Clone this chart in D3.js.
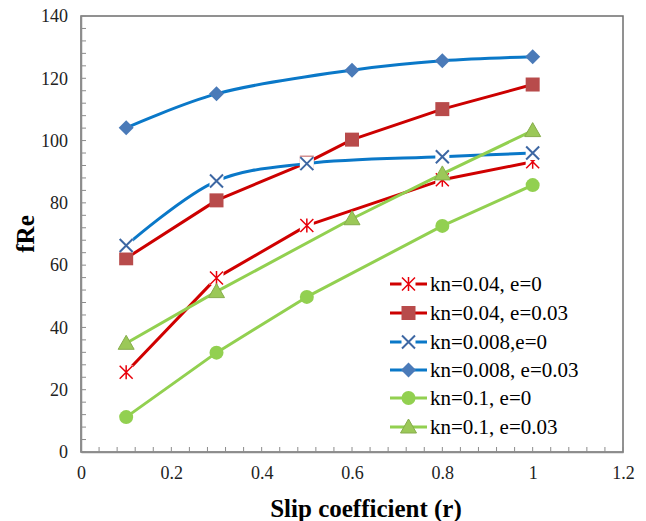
<!DOCTYPE html>
<html>
<head>
<meta charset="utf-8">
<script src="https://cdn.jsdelivr.net/npm/d3@7"></script>
<style>
	body { margin: 0; background: #fff; }
	text { font-family: "Liberation Serif", "Times New Roman", serif; }
</style>
</head>
<body>
<div id="chart"></div>
<script>
// Data
const seriesNames = ["kn=0.04, e=0", "kn=0.04, e=0.03", "kn=0.008,e=0", "kn=0.008, e=0.03", "kn=0.1, e=0", "kn=0.1, e=0.03"]

const xKn004e0 = [0.1, 0.3, 0.5, 0.8, 1]
const yKn004e0 = [25.6, 55.9, 72.7, 87.4, 93.2]

const xKn004e003 = [0.1, 0.3, 0.5, 0.6, 0.8, 1]
const yKn004e003 = [62.2, 80.8, 92.9, 100.3, 110.1, 118.0]

const xKn0008e0 = [0.1, 0.3, 0.5, 0.8, 1]
const yKn0008e0 = [66.3, 87.0, 92.6, 94.8, 96.0]

const xKn0008e003 = [0.1, 0.3, 0.6, 0.8, 1]
const yKn0008e003 = [104.1, 115.0, 122.6, 125.6, 126.9]

const xKn01e0 = [0.1, 0.3, 0.5, 0.8, 1]
const yKn01e0 = [11.2, 31.9, 49.8, 72.6, 85.7]

const xKn01e003 = [0.1, 0.3, 0.6, 0.8, 1]
const yKn01e003 = [34.9, 51.5, 74.9, 89.3, 103.2]

const xTicks = [0, 0.2, 0.4, 0.6, 0.8, 1, 1.2]
const yTicks = [0, 20, 40, 60, 80, 100, 120, 140]

// styles per series
const styles = [
	{ line: "#d00000", marker: "star", fill: "none", stroke: "#e8000b", smooth: false },
	{ line: "#cc0000", marker: "square", fill: "#b84b4b", stroke: "#b84b4b", smooth: false },
	{ line: "#0a78c8", marker: "x", fill: "none", stroke: "#3d67a3", smooth: true },
	{ line: "#0a78c8", marker: "diamond", fill: "#4a7ab8", stroke: "#4a7ab8", smooth: true },
	{ line: "#92d050", marker: "circle", fill: "#92d050", stroke: "#92d050", smooth: false },
	{ line: "#92d050", marker: "triangle", fill: "#9bc858", stroke: "#86ad4c", smooth: false }
]

const xs = [xKn004e0, xKn004e003, xKn0008e0, xKn0008e003, xKn01e0, xKn01e003]
const ys = [yKn004e0, yKn004e003, yKn0008e0, yKn0008e003, yKn01e0, yKn01e003]

const dims = { width: 646, height: 521, left: 81, top: 16, right: 623, bottom: 452 }

const svg = d3.select("#chart").append("svg")
	.attr("width", dims.width)
	.attr("height", dims.height)

const xScale = d3.scaleLinear().domain([0, 1.2]).range([dims.left, dims.right])
const yScale = d3.scaleLinear().domain([0, 140]).range([dims.bottom, dims.top])

// plot border (top / right)
svg.append("rect")
	.attr("x", dims.left).attr("y", dims.top)
	.attr("width", dims.right - dims.left).attr("height", dims.bottom - dims.top)
	.attr("fill", "none").attr("stroke", "#6e6e6e").attr("stroke-width", 1.5)

// minor ticks
const xMinor = d3.range(0, 1.2001, 0.04)
const yMinor = d3.range(0, 140.001, 4)

svg.append("g").selectAll("line")
	.data(xMinor)
	.join("line")
	.attr("x1", d => xScale(d)).attr("x2", d => xScale(d))
	.attr("y1", dims.bottom).attr("y2", dims.bottom - 5)
	.attr("stroke", "#8c8c8c").attr("stroke-width", 1)

svg.append("g").selectAll("line")
	.data(yMinor)
	.join("line")
	.attr("y1", d => yScale(d)).attr("y2", d => yScale(d))
	.attr("x1", dims.left).attr("x2", dims.left + 5)
	.attr("stroke", "#8c8c8c").attr("stroke-width", 1)

// X axis
const xAxis = svg.append("g")
	.attr("transform", `translate(0, ${dims.bottom})`)
	.call(d3.axisBottom(xScale).tickValues(xTicks).tickSize(0).tickPadding(14).tickFormat(d => d3.format("")(+d.toFixed(1))))
xAxis.select(".domain").attr("stroke", "#8c8c8c").attr("stroke-width", 1.5)
xAxis.selectAll("text")
	.attr("font-size", "18px").attr("fill", "#222")

// Y axis
const yAxis = svg.append("g")
	.attr("transform", `translate(${dims.left}, 0)`)
	.call(d3.axisLeft(yScale).tickValues(yTicks).tickSize(0).tickPadding(13))
yAxis.select(".domain").attr("stroke", "#8c8c8c").attr("stroke-width", 1.5)
yAxis.selectAll("text")
	.attr("font-size", "18px").attr("fill", "#222")

// Axis titles
svg.append("text")
	.attr("x", 366).attr("y", 517)
	.attr("text-anchor", "middle")
	.attr("font-size", "25px").attr("font-weight", "bold")
	.text("Slip coefficient (r)")

svg.append("text")
	.attr("transform", "translate(34, 234) rotate(-90)")
	.attr("text-anchor", "middle")
	.attr("font-size", "25px").attr("font-weight", "bold")
	.text("fRe")

/**
 * draws one marker of the given type at (cx, cy)
 */
function drawMarker(g, type, cx, cy, st) {
	if (type === "square") {
		g.append("rect").attr("x", cx - 7).attr("y", cy - 7).attr("width", 14).attr("height", 14)
			.attr("fill", st.fill)
	} else if (type === "diamond") {
		g.append("path").attr("d", `M${cx},${cy - 7.5}L${cx + 7.5},${cy}L${cx},${cy + 7.5}L${cx - 7.5},${cy}Z`)
			.attr("fill", st.fill)
	} else if (type === "circle") {
		g.append("circle").attr("cx", cx).attr("cy", cy).attr("r", 7).attr("fill", st.fill)
	} else if (type === "triangle") {
		g.append("path").attr("d", `M${cx},${cy - 8}L${cx + 8},${cy + 6}L${cx - 8},${cy + 6}Z`)
			.attr("fill", st.fill).attr("stroke", st.stroke).attr("stroke-width", 1)
	} else if (type === "x") {
		g.append("rect").attr("x", cx - 7).attr("y", cy - 7).attr("width", 14).attr("height", 14).attr("fill", "#fff")
		g.append("path").attr("d", `M${cx - 6.5},${cy - 6.5}L${cx + 6.5},${cy + 6.5}M${cx + 6.5},${cy - 6.5}L${cx - 6.5},${cy + 6.5}`)
			.attr("stroke", st.stroke).attr("stroke-width", 2)
	} else if (type === "star") {
		g.append("rect").attr("x", cx - 7).attr("y", cy - 7).attr("width", 14).attr("height", 14).attr("fill", "#fff")
		g.append("path").attr("d", `M${cx - 6.5},${cy - 6.5}L${cx + 6.5},${cy + 6.5}M${cx + 6.5},${cy - 6.5}L${cx - 6.5},${cy + 6.5}M${cx},${cy - 7}L${cx},${cy + 7}`)
			.attr("stroke", st.stroke).attr("stroke-width", 1.5)
	}
}

// Series lines then markers
const plot = svg.append("g")
seriesNames.forEach((name, i) => {
	const pts = xs[i].map((x, j) => [x, ys[i][j]])
	const st = styles[i]
	const line = d3.line()
		.x(d => xScale(d[0]))
		.y(d => yScale(d[1]))
		.curve(st.smooth ? d3.curveCatmullRom.alpha(0.5) : d3.curveLinear)
	plot.append("path")
		.datum(pts)
		.attr("d", line)
		.attr("fill", "none")
		.attr("stroke", st.line)
		.attr("stroke-width", 3)
		.attr("stroke-linejoin", "round")
	const mg = plot.append("g")
	pts.forEach(p => drawMarker(mg, st.marker, xScale(p[0]), yScale(p[1]), st))
})

// Legend
const legend = svg.append("g")
const legendY = [284, 313, 342, 370, 398, 427]
seriesNames.forEach((name, i) => {
	const st = styles[i]
	const y = legendY[i]
	legend.append("line")
		.attr("x1", 390).attr("x2", 427).attr("y1", y).attr("y2", y)
		.attr("stroke", st.line).attr("stroke-width", 3)
	drawMarker(legend, st.marker, 408.5, y, st)
	legend.append("text")
		.attr("x", 430).attr("y", y + 7)
		.attr("font-size", "21px").attr("fill", "#000")
		.text(name)
})
</script>
</body>
</html>
